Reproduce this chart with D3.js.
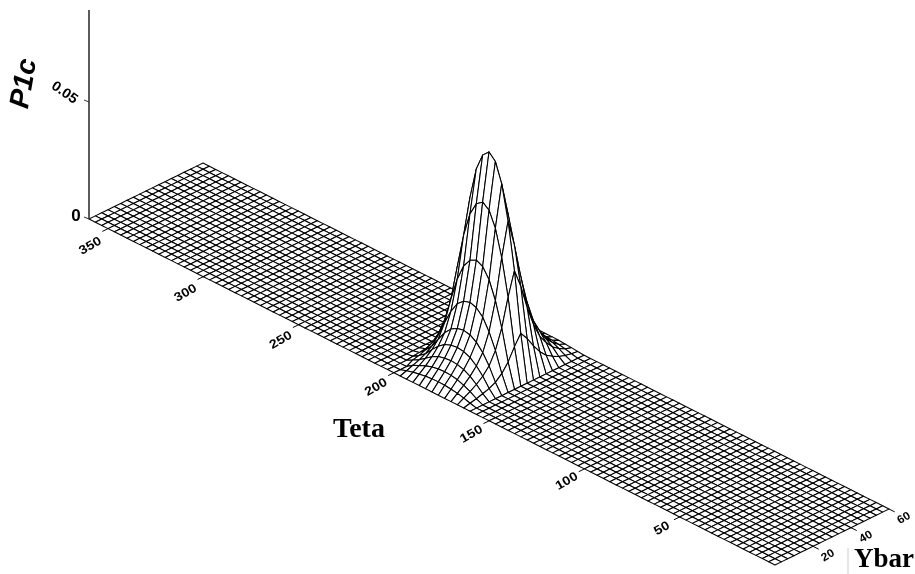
<!DOCTYPE html>
<html><head><meta charset="utf-8">
<script src="https://cdn.jsdelivr.net/npm/d3@7"></script>
<style>html,body{margin:0;padding:0;background:#fff}svg{display:block;filter:blur(.55px)}</style>
</head><body><svg id="c" width="915" height="574"></svg>
<script>
const tetaStep = 10 / 3, ybarStep = 10 / 3;
const tetaCells = 108, ybarCells = 18;
const tetaTicks = [50, 100, 150, 200, 250, 300, 350];
const ybarTicks = [20, 40, 60];
const zTicks = [0, 0.05];
// Grid index of the first column of the hill table (columns run down in Teta)
const hillFirstColumn = 61;
const hillP1c = [
  [0,0,0,0,0,0,0,0,0,0,0,0,0],
  [0,0,.0009,.0016,.0022,.0027,.0029,.003,.0029,.0026,.0022,.0015,.0007],
  [0,0,.0019,.0032,.0044,.0053,.0058,.006,.0058,.0053,.0043,.003,.0013],
  [0,.0015,.0029,.005,.007,.0084,.0091,.0094,.0091,.0083,.0068,.0047,.0021],
  [.0004,.0021,.0042,.0073,.0101,.0122,.0133,.0137,.0133,.0121,.0099,.0069,.003],
  [.0006,.0031,.0061,.0104,.0146,.0175,.0191,.0197,.0191,.0173,.0142,.0099,.0043],
  [.0009,.0047,.0094,.0161,.0224,.027,.0294,.0303,.0294,.0267,.0218,.0152,.0067],
  [.0014,.0073,.0146,.0249,.0348,.0418,.0456,.047,.0456,.0414,.0338,.0235,.0103],
  [.0021,.0109,.0219,.0374,.0522,.0627,.0684,.0705,.0684,.062,.0508,.0353,.0155],
  [.0027,.014,.0281,.048,.067,.0806,.0879,.0906,.0879,.0797,.0652,.0453,.0199],
  [.0022,.0115,.0231,.0395,.0551,.0663,.0723,.0745,.0723,.0656,.0536,.0373,.0164],
  [.0016,.0084,.0167,.0286,.04,.0481,.0524,.054,.0524,.0475,.0389,.027,.0119],
  [.0011,.0057,.0114,.0195,.0272,.0328,.0357,.0368,.0357,.0324,.0265,.0184,.0081],
  [.0007,.0037,.0074,.0127,.0178,.0214,.0233,.024,.0233,.0211,.0173,.012,.0053],
  [.0005,.0025,.005,.0085,.0118,.0142,.0155,.016,.0155,.0141,.0115,.008,.0035],
  [.0003,.0015,.0029,.005,.007,.0085,.0092,.0095,.0092,.0084,.0068,.0048,.0021],
  [.0002,.0009,.0017,.0029,.0041,.0049,.0053,.0055,.0053,.0048,.004,.0028,.0012],
  [.0001,.0004,.0008,.0013,.0019,.0022,.0024,.0025,.0024,.0022,.0018,.0013,.0006],
  [0,.0002,.0003,.0005,.0007,.0009,.001,.001,.001,.0009,.0007,.0005,.0002]
];
const svg = d3.select("#c");
const ox = 775, oy = 565;
const tX = d3.scaleLinear().domain([0,360]).range([0,-686]);
const tY = d3.scaleLinear().domain([0,360]).range([0,-346]);
const yX = d3.scaleLinear().domain([0,60]).range([0,114]);
const yY = d3.scaleLinear().domain([0,60]).range([0,-56]);
const zY = d3.scaleLinear().domain([0,0.05]).range([0,-117]);
const labelNudge = d3.scaleLinear().domain([50,350]).range([2,8]);
const P = (t,y,z=0)=>[ox+tX(t)+yX(y), oy+tY(t)+yY(y)+zY(z)];
const Z = (ti,yi)=>{const c=hillFirstColumn-ti;return (c>=0&&c<hillP1c[0].length)?hillP1c[yi][c]:0;};

const g = svg.append("g");
const quads=[];
for(let yi=ybarCells-1;yi>=0;yi--){
  for(let ti=tetaCells-1;ti>=0;ti--){
    const t0=ti*tetaStep,t1=(ti+1)*tetaStep,y0=yi*ybarStep,y1=(yi+1)*ybarStep;
    quads.push([P(t0,y0,Z(ti,yi)),P(t1,y0,Z(ti+1,yi)),P(t1,y1,Z(ti+1,yi+1)),P(t0,y1,Z(ti,yi+1))]);
  }
}
g.selectAll("path").data(quads).join("path")
 .attr("d",d=>d3.line()(d)+"Z")
 .attr("fill","#fff").attr("stroke","#000").attr("stroke-width",1.05).attr("stroke-linejoin","round");

const a = svg.append("g").attr("stroke","#333");
const base = P(360,0,0);
a.append("line").attr("x1",base[0]).attr("x2",base[0]).attr("y1",base[1]).attr("y2",10).attr("stroke-width",1.6);
zTicks.forEach(z=>{const p=P(360,0,z);a.append("line").attr("x1",p[0]-5).attr("x2",p[0]).attr("y1",p[1]-2).attr("y2",p[1]);});
tetaTicks.forEach(t=>{const p=P(t,0),q=P(t,-3);a.append("line").attr("x1",p[0]).attr("y1",p[1]).attr("x2",q[0]).attr("y2",q[1]).attr("stroke","#000");});
ybarTicks.forEach(y=>{const p=P(0,y),q=P(-3,y);a.append("line").attr("x1",p[0]).attr("y1",p[1]).attr("x2",q[0]).attr("y2",q[1]).attr("stroke","#000");});

const sans = "Liberation Sans, Arial, sans-serif";
function rot(x,y,txt,size,ang,sx=1.1,sy=.95){
  return svg.append("text").attr("transform",`translate(${x},${y}) rotate(${ang}) scale(${sx},${sy})`)
   .attr("text-anchor","middle").attr("dominant-baseline","central")
   .attr("font-family",sans).attr("font-weight","bold").attr("font-size",size).text(txt);
}
tetaTicks.forEach(t=>{const p=P(t,-9.5);rot(p[0],p[1]+labelNudge(t),t,13,-30);});
ybarTicks.forEach(y=>{const p=P(-7.5,y);rot(p[0],p[1]+1,y,12,-30,1,.95);});
rot(65,92,"0.05",14,35,1.05,1);
rot(76,215,"0",17,0,1,1);
svg.append("text").attr("transform","translate(32,85) rotate(-80)")
 .attr("text-anchor","middle").attr("font-family",sans).attr("font-weight","bold").attr("font-style","italic").attr("font-size",28).text("P1c");

const serif="Liberation Serif, Times New Roman, serif";
svg.append("text").attr("x",359).attr("y",437).attr("text-anchor","middle").attr("font-family",serif).attr("font-weight","bold").attr("font-size",28).text("Teta");
svg.append("text").attr("x",884).attr("y",567).attr("text-anchor","middle").attr("font-family",serif).attr("font-weight","bold").attr("font-size",27).text("Ybar");
svg.append("line").attr("x1",848).attr("x2",848).attr("y1",548).attr("y2",574).attr("stroke","#ccc");
</script></body></html>
